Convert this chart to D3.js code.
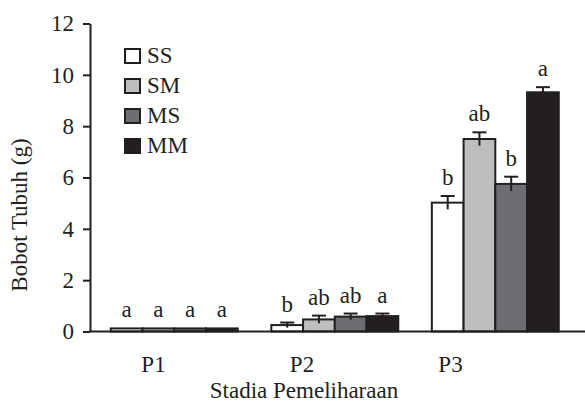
<!DOCTYPE html>
<html>
<head>
<meta charset="utf-8">
<script src="https://cdn.jsdelivr.net/npm/d3@7"></script>
<style>
  body { margin: 0; background: #fff; }
  svg text { font-family: "Liberation Serif", "Tinos", "DejaVu Serif", serif !important; fill: #231f20; }
</style>
</head>
<body>
<div id="chart"></div>
<script>
// data
var groups = ["P1", "P2", "P3"];
var treatments = ["SS", "SM", "MS", "MM"];
var colors = ["#ffffff", "#bcbec0", "#6d6e71", "#231f20"];

var meanSS = [0.12, 0.25, 5.02],
    meanSM = [0.12, 0.47, 7.50],
    meanMS = [0.12, 0.58, 5.75],
    meanMM = [0.12, 0.60, 9.32];

var errSS = [0, 0.10, 0.26],
    errSM = [0, 0.15, 0.26],
    errMS = [0, 0.12, 0.28],
    errMM = [0, 0.10, 0.20];

var letSS = ["a", "b", "b"],
    letSM = ["a", "ab", "ab"],
    letMS = ["a", "ab", "b"],
    letMM = ["a", "a", "a"];

var yTicks = [0, 2, 4, 6, 8, 10, 12];

var means = [meanSS, meanSM, meanMS, meanMM],
    errs = [errSS, errSM, errMS, errMM],
    lets = [letSS, letSM, letMS, letMM];

var width = 585, height = 409;
var fontSize = 23;
var ink = "#231f20";
var serif = "'Liberation Serif', Tinos, 'DejaVu Serif', serif";

var svg = d3.select("#chart").append("svg")
    .attr("width", width)
    .attr("height", height)
    .attr("font-family", serif);

var y = d3.scaleLinear().domain([0, 12]).range([331.5, 23.5]);

// bar groups
var x0 = d3.scaleBand().domain(groups).range([110.8, 558.8]).paddingInner(0.209).paddingOuter(0);
var x1 = d3.scaleBand().domain(treatments).range([0, x0.bandwidth()]).padding(0);
// category labels sit left of the bar groups in the original
var xLab = d3.scalePoint().domain(groups).range([153, 450]);

var rows = [];
groups.forEach(function(g, gi) {
  treatments.forEach(function(t, ti) {
    rows.push({group: g, treat: t, ti: ti, v: means[ti][gi], e: errs[ti][gi], l: lets[ti][gi]});
  });
});

var bars = svg.append("g");
bars.selectAll("rect")
    .data(rows)
  .enter().append("rect")
    .attr("x", function(d) { return x0(d.group) + x1(d.treat); })
    .attr("y", function(d) { return y(d.v); })
    .attr("width", x1.bandwidth())
    .attr("height", function(d) { return y(0) - y(d.v); })
    .attr("fill", function(d) { return colors[d.ti]; })
    .attr("stroke", ink)
    .attr("stroke-width", 2);

// error bars
var eb = svg.append("g").attr("stroke", ink).attr("stroke-width", 2);
rows.filter(function(d) { return d.e > 0; }).forEach(function(d) {
  var cx = x0(d.group) + x1(d.treat) + x1.bandwidth() / 2;
  eb.append("line")
      .attr("x1", cx).attr("x2", cx)
      .attr("y1", y(d.v - d.e)).attr("y2", y(d.v + d.e));
  eb.append("line")
      .attr("x1", cx - 7).attr("x2", cx + 7)
      .attr("y1", y(d.v + d.e)).attr("y2", y(d.v + d.e));
});

// significance letters
svg.append("g").selectAll("text")
    .data(rows)
  .enter().append("text")
    .attr("x", function(d) { return x0(d.group) + x1(d.treat) + x1.bandwidth() / 2; })
    .attr("y", function(d) { return y(d.v + d.e) - 11; })
    .attr("text-anchor", "middle")
    .style("font-size", fontSize + "px")
    .text(function(d) { return d.l; });

// y axis
var yAxis = d3.axisLeft(y).tickValues(yTicks).tickSize(7).tickSizeOuter(0).tickPadding(9);
var gy = svg.append("g")
    .attr("transform", "translate(90,0)")
    .call(yAxis)
    .attr("font-family", serif)
    .attr("font-size", fontSize);
gy.selectAll("path, line").attr("stroke", ink).attr("stroke-width", 2);
gy.selectAll("text").attr("fill", ink);

// x axis (line only, labels from xLab)
svg.append("line")
    .attr("x1", 89).attr("x2", 585)
    .attr("y1", y(0)).attr("y2", y(0))
    .attr("stroke", ink).attr("stroke-width", 2);

var gx = svg.append("g")
    .attr("transform", "translate(0," + y(0) + ")")
    .call(d3.axisBottom(xLab).tickSize(0).tickPadding(24))
    .attr("font-family", serif)
    .attr("font-size", fontSize);
gx.select(".domain").remove();
gx.selectAll("text").attr("fill", ink);

// axis titles
svg.append("text")
    .attr("x", 304)
    .attr("y", 398)
    .attr("text-anchor", "middle")
    .style("font-size", fontSize + "px")
    .text("Stadia Pemeliharaan");

svg.append("text")
    .attr("transform", "translate(27,215) rotate(-90)")
    .attr("text-anchor", "middle")
    .style("font-size", fontSize + "px")
    .text("Bobot Tubuh (g)");

// legend
var leg = svg.append("g").selectAll("g")
    .data(treatments)
  .enter().append("g")
    .attr("transform", function(d, i) { return "translate(125," + (49 + i * 30) + ")"; });
leg.append("rect")
    .attr("width", 15).attr("height", 14)
    .attr("fill", function(d, i) { return colors[i]; })
    .attr("stroke", ink)
    .attr("stroke-width", 2);
leg.append("text")
    .attr("x", 22)
    .attr("y", 14)
    .style("font-size", fontSize + "px")
    .text(function(d) { return d; });
</script>
</body>
</html>
